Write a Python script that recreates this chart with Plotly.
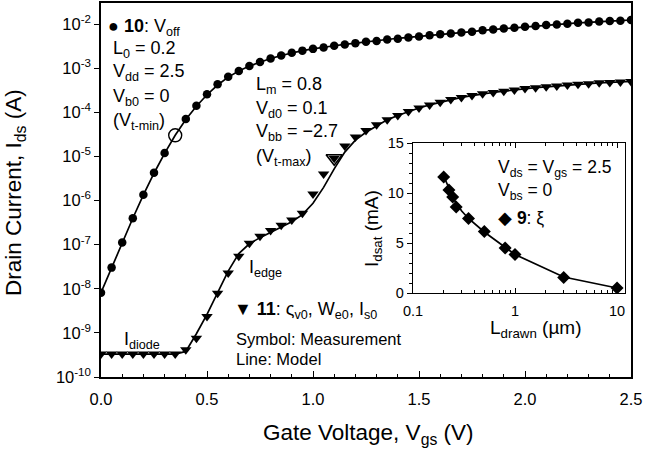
import plotly.graph_objects as go

# ---------------- data ----------------
vgs = [0.00, 0.05, 0.10, 0.15, 0.20, 0.25, 0.30, 0.35, 0.40, 0.45,
       0.50, 0.55, 0.60, 0.65, 0.70, 0.75, 0.80, 0.85, 0.90, 0.95,
       1.00, 1.05, 1.10, 1.15, 1.20, 1.25, 1.30, 1.35, 1.40, 1.45,
       1.50, 1.55, 1.60, 1.65, 1.70, 1.75, 1.80, 1.85, 1.90, 1.95,
       2.00, 2.05, 2.10, 2.15, 2.20, 2.25, 2.30, 2.35, 2.40, 2.45, 2.50]

# log10(Ids) for device 10 (circles) measured
off_meas_log = [-8.09, -7.52, -6.95, -6.40, -5.87, -5.37, -4.92, None, -4.15, -3.85,
                -3.59, -3.36, -3.19, -3.06, -2.95, -2.86, -2.78, -2.71, -2.65, -2.60,
                -2.56, -2.53, -2.49, -2.46, -2.43, -2.40, -2.38, -2.35, -2.33, -2.30,
                -2.28, -2.25, -2.23, -2.21, -2.19, -2.17, -2.14, -2.12, -2.10, -2.08,
                -2.06, -2.04, -2.02, -2.01, -1.99, -1.97, -1.96, -1.94, -1.93, -1.92, -1.905]
off_model_log = [-8.09, -7.52, -6.95, -6.40, -5.87, -5.38, -4.93, -4.52, -4.16, -3.86,
                 -3.60, -3.38, -3.20, -3.06, -2.95, -2.86, -2.78, -2.71, -2.65, -2.60,
                 -2.56, -2.52, -2.49, -2.46, -2.43, -2.40, -2.37, -2.35, -2.32, -2.30,
                 -2.28, -2.25, -2.23, -2.21, -2.19, -2.17, -2.14, -2.12, -2.10, -2.08,
                 -2.06, -2.04, -2.02, -2.01, -1.99, -1.97, -1.96, -1.94, -1.93, -1.92, -1.905]

# log10(Ids) for device 11 (triangles) measured
edge_meas_log = [-9.48, -9.48, -9.48, -9.48, -9.48, -9.48, -9.48, -9.48, -9.38, -9.12,
                 -8.63, -8.10, -7.64, -7.26, -6.97, -6.81, -6.68, -6.56, -6.44, -6.29,
                 -5.85, -5.40, -5.04, -4.76, -4.56, -4.41, -4.28, -4.17, -4.07, -3.98,
                 -3.90, -3.83, -3.77, -3.71, -3.66, -3.62, -3.58, -3.55, -3.52, -3.49,
                 -3.46, -3.44, -3.42, -3.40, -3.38, -3.36, -3.35, -3.33, -3.32, -3.31, -3.30]
edge_model_log = [-9.48, -9.48, -9.48, -9.48, -9.48, -9.48, -9.48, -9.48, -9.42, -9.02,
                  -8.58, -8.08, -7.60, -7.20, -6.98, -6.84, -6.72, -6.60, -6.48, -6.32,
                  -6.06, -5.70, -5.28, -4.90, -4.63, -4.45, -4.30, -4.17, -4.07, -3.98,
                  -3.90, -3.83, -3.77, -3.71, -3.66, -3.62, -3.58, -3.55, -3.52, -3.49,
                  -3.46, -3.44, -3.42, -3.40, -3.38, -3.36, -3.35, -3.33, -3.32, -3.31, -3.30]

vtmin_v = [0.35]
vtmin_log = [-4.52]
vtmax_v = [1.10]
vtmax_log = [-5.04]

ytick_exp = [-10, -9, -8, -7, -6, -5, -4, -3, -2]
xtick_vals = [0.0, 0.5, 1.0, 1.5, 2.0, 2.5]
xtick_text = ["0.0", "0.5", "1.0", "1.5", "2.0", "2.5"]

# inset: Idsat vs Ldrawn
l_meas = [0.2, 0.225, 0.245, 0.265, 0.35, 0.5, 0.8, 1.0, 3.0, 10.0]
idsat_meas = [11.6, 10.3, 9.6, 8.6, 7.45, 6.15, 4.5, 3.85, 1.55, 0.5]
l_model = [0.2, 0.225, 0.25, 0.3, 0.35, 0.5, 0.8, 1.0, 3.0, 10.0]
idsat_model = [11.7, 10.4, 9.4, 8.2, 7.45, 6.1, 4.55, 3.85, 1.6, 0.5]

FONT = "Liberation Sans, Arial, sans-serif"

# ---------------- geometry (pixels) ----------------
W, H = 649, 453
PL, PR, PT, PB = 101, 631, 3, 377


def px(xp):
    return (xp - PL) / (PR - PL)


def py(yp):
    return (PB - yp) / (PB - PT)


def exp10(lst):
    return [None if v is None else 10 ** v for v in lst]


fig = go.Figure()

# main lines (model)
fig.add_trace(go.Scatter(x=vgs, y=exp10(off_model_log), mode="lines",
                         line=dict(color="black", width=1.7), showlegend=False))
fig.add_trace(go.Scatter(x=vgs, y=exp10(edge_model_log), mode="lines",
                         line=dict(color="black", width=1.7), showlegend=False))
# symbols
fig.add_trace(go.Scatter(x=vgs, y=exp10(off_meas_log), mode="markers",
                         marker=dict(symbol="circle", size=8.5, color="black"),
                         showlegend=False))
fig.add_trace(go.Scatter(x=vgs, y=exp10(edge_meas_log), mode="markers",
                         marker=dict(symbol="triangle-down", size=10, color="black"),
                         showlegend=False))
fig.add_trace(go.Scatter(x=vtmin_v, y=exp10(vtmin_log), mode="markers",
                         marker=dict(symbol="circle-open", size=13, color="black",
                                     line=dict(width=1.4)),
                         showlegend=False))
fig.add_trace(go.Scatter(x=vtmax_v, y=exp10(vtmax_log), mode="markers",
                         marker=dict(symbol="triangle-down-open", size=14, color="black",
                                     line=dict(width=1.6)),
                         showlegend=False))

# inset
fig.add_trace(go.Scatter(x=l_model, y=idsat_model, mode="lines",
                         line=dict(color="black", width=1.7),
                         xaxis="x2", yaxis="y2", showlegend=False))
fig.add_trace(go.Scatter(x=l_meas, y=idsat_meas, mode="markers",
                         marker=dict(symbol="diamond", size=10, color="black"),
                         xaxis="x2", yaxis="y2", showlegend=False))

# ---------------- layout ----------------
ix0, ix1, iy0, iy1 = 413, 625, 143, 293

fig.update_layout(
    template="none",
    width=W, height=H,
    margin=dict(l=PL, r=W - PR, t=PT, b=H - PB, autoexpand=False),
    paper_bgcolor="white", plot_bgcolor="white",
    font=dict(family=FONT, size=16, color="black"),
    xaxis=dict(range=[0, 2.5], tickvals=xtick_vals, ticktext=xtick_text,
               showgrid=False, zeroline=False, automargin=False,
               showline=True, mirror=True, linecolor="black", linewidth=1.5,
               ticks="inside", ticklen=6, tickwidth=1.2, tickcolor="black",
               minor=dict(dtick=0.1, ticks="inside", ticklen=3, tickcolor="black"),
               ticklabelstandoff=6,
               tickfont=dict(size=16.5)),
    yaxis=dict(type="log", range=[-10, -1.52],
               tickvals=[10 ** e for e in ytick_exp],
               ticktext=["10<sup>%d</sup>" % e for e in ytick_exp],
               showgrid=False, zeroline=False, automargin=False,
               showline=True, mirror=True, linecolor="black", linewidth=1.5,
               ticks="outside", ticklen=5, tickwidth=1.2, tickcolor="black",
               tickfont=dict(size=16.5)),
    xaxis2=dict(type="log", range=[-1, 1.078], anchor="y2",
                domain=[px(ix0), px(ix1)], automargin=False,
                tickvals=[0.1, 1, 10], ticktext=["0.1", "1", "10"],
                showgrid=False, zeroline=False,
                showline=True, mirror="ticks", linecolor="black", linewidth=1.3,
                ticks="inside", ticklen=5, tickcolor="black",
                minor=dict(tickvals=[0.2, 0.3, 0.4, 0.5, 0.6, 0.7, 0.8, 0.9,
                                     2, 3, 4, 5, 6, 7, 8, 9],
                           ticks="inside", ticklen=3, tickcolor="black"),
                ticklabelstandoff=4,
                tickfont=dict(size=14.5)),
    yaxis2=dict(range=[0, 15], anchor="x2",
                domain=[py(iy1), py(iy0)], automargin=False,
                tickvals=[0, 5, 10, 15],
                showgrid=False, zeroline=False,
                showline=True, mirror=True, linecolor="black", linewidth=1.3,
                ticks="outside", ticklen=5, tickcolor="black",
                minor=dict(dtick=1, ticks="outside", ticklen=3, tickcolor="black"),
                tickfont=dict(size=14.5)),
)

ann = []


def label(text, xp, yp, size=18, anchor="left", angle=0):
    ann.append(dict(text=text, x=px(xp), y=py(yp), xref="paper", yref="paper",
                    xanchor=anchor, yanchor="middle", showarrow=False,
                    textangle=angle,
                    font=dict(family=FONT, size=size, color="black")))


# axis titles
label("Gate Voltage, V<sub>gs</sub> (V)", 368, 434, size=22.5, anchor="center")
label("Drain Current, I<sub>ds</sub> (A)", 15, 193, size=22.5, anchor="center", angle=-90)
label("L<sub>drawn</sub> (µm)", 536, 329, size=19, anchor="center")
label("I<sub>dsat</sub> (mA)", 373, 229, size=19, anchor="center", angle=-90)

# block 1
label("● <b>10</b>: V<sub>off</sub>", 106, 27)
label("L<sub>0</sub> = 0.2", 111, 50)
label("V<sub>dd</sub> = 2.5", 111, 73)
label("V<sub>b0</sub> = 0", 111, 97)
label("(V<sub>t-min</sub>)", 111, 121)
# block 2
label("L<sub>m</sub> = 0.8", 254, 85)
label("V<sub>d0</sub> = 0.1", 254, 109)
label("V<sub>bb</sub> = −2.7", 254, 132)
label("(V<sub>t-max</sub>)", 254, 157)
# block 3
label("▼ <b>11</b>: ς<sub>v0</sub>, W<sub>e0</sub>, I<sub>s0</sub>", 232, 310)
label("Symbol: Measurement", 234, 339, size=16.5)
label("Line: Model", 234, 359, size=16.5)
label("I<sub>diode</sub>", 122, 340)
label("I<sub>edge</sub>", 247, 268)
# inset texts
label("V<sub>ds</sub> = V<sub>gs</sub> = 2.5", 496, 168, size=17.5)
label("V<sub>bs</sub> = 0", 496, 191, size=17.5)
label("◆ <b>9</b>: ξ", 496, 218, size=17.5)

fig.update_layout(annotations=ann)

fig.write_html("out.html")
